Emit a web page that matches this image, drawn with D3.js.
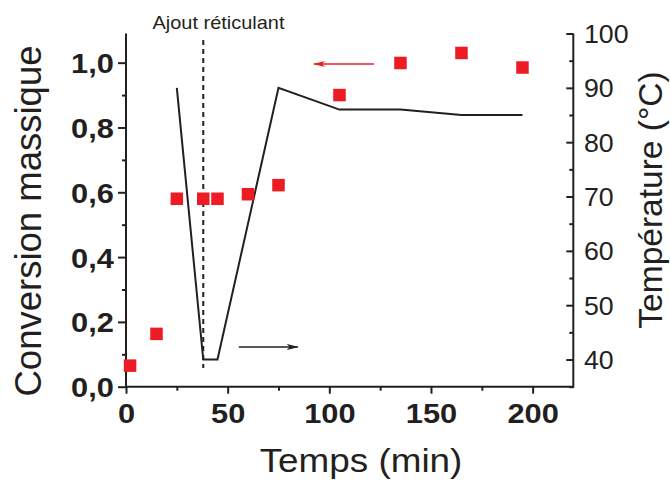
<!DOCTYPE html>
<html><head><meta charset="utf-8">
<script src="https://cdn.jsdelivr.net/npm/d3@7"></script>
<style>
html,body{margin:0;padding:0;background:#fff;}
svg{display:block;font-family:"Liberation Sans",Arial,sans-serif;}
</style></head>
<body>
<svg id="chart" width="670" height="480"></svg>
<script>
// ---- data ----
const convTime = [2, 15, 25, 38, 45, 60, 75, 105, 135, 165, 195];
const convValues = [0.065, 0.163, 0.58, 0.58, 0.58, 0.594, 0.622, 0.90, 0.999, 1.03, 0.985];
const tempTime = [25, 38, 45, 75, 105, 135, 165, 195];
const tempValues = [90, 40, 40, 90, 86, 86, 85, 85];
const xTicks = [0, 50, 100, 150, 200];
const xMinor = [25, 75, 125, 175];
const leftTicks = [0, 0.2, 0.4, 0.6, 0.8, 1.0];
const leftMinor = [0.1, 0.3, 0.5, 0.7, 0.9];
const rightTicks = [40, 50, 60, 70, 80, 90, 100];
const rightMinor = [35, 45, 55, 65, 75, 85, 95];
const additionTime = 38;
const annotationText = "Ajout réticulant";
const xTitle = "Temps (min)";
const leftTitle = "Conversion massique";
const rightTitle = "Température (°C)";

const RED = "#ed1c24", INK = "#231f20";
const svg = d3.select("#chart");
const L = 126, R = 573.3, T = 33.5, B = 386.7;

const x = d3.scaleLinear().domain([0, 220]).range([L, R]);
const yL = d3.scaleLinear().domain([0, 1.09]).range([B, T]);
const yR = d3.scaleLinear().domain([35, 100]).range([B, T]);
const fmtL = v => d3.format(".1f")(v).replace(".", ",");

// markers
const defs = svg.append("defs");
[["arrRed", RED], ["arrBlk", INK]].forEach(([id, c]) => {
  defs.append("marker").attr("id", id).attr("viewBox", "0 0 12 8")
    .attr("refX", 11).attr("refY", 4).attr("markerWidth", 12).attr("markerHeight", 8)
    .attr("markerUnits", "userSpaceOnUse").attr("orient", "auto")
    .append("path").attr("d", "M0,1 L12,4 L0,7 L3,4 Z").attr("fill", c);
});

function styleAxis(g, bold, size) {
  g.select(".domain").remove();
  g.selectAll("line").attr("stroke", INK).attr("stroke-width", 2);
  g.selectAll("text").attr("fill", INK).attr("font-size", size)
    .attr("font-weight", bold ? "bold" : "normal")
    .attr("font-family", "'Liberation Sans', Arial, sans-serif");
}

// X axis
const gx = svg.append("g").attr("transform", `translate(0,${B})`)
  .call(d3.axisBottom(x).tickValues(xTicks).tickSize(7).tickPadding(8).tickFormat(d3.format("d")));
styleAxis(gx, true, 28);
gx.selectAll("text").attr("transform", "scale(1.1,1)").each(function(){
  const t = d3.select(this.parentNode).attr("transform");
});
gx.selectAll(".tick text").attr("transform", null).attr("text-anchor", "middle")
  .attr("dy", null).attr("y", 36.5).style("transform", "scaleX(1.1)");
const gxm = svg.append("g").attr("transform", `translate(0,${B})`)
  .call(d3.axisBottom(x).tickValues(xMinor).tickSize(4).tickFormat(""));
styleAxis(gxm, true, 28);

// Left axis
const gl = svg.append("g").attr("transform", `translate(${L},0)`)
  .call(d3.axisLeft(yL).tickValues(leftTicks).tickSize(8).tickPadding(3).tickFormat(fmtL));
styleAxis(gl, true, 28);
gl.selectAll(".tick text").attr("dy", "0.36em").style("transform", "scaleX(1.1)").style("transform-origin", "0 0");
const glm = svg.append("g").attr("transform", `translate(${L},0)`)
  .call(d3.axisLeft(yL).tickValues(leftMinor).tickSize(4).tickFormat(""));
styleAxis(glm, true, 28);

// Right axis (ticks inward)
const gr = svg.append("g").attr("transform", `translate(${R},0)`)
  .call(d3.axisRight(yR).tickValues(rightTicks).tickSize(-7).tickPadding(10).tickFormat(d3.format("d")));
styleAxis(gr, false, 25);
gr.selectAll(".tick text").attr("dy", "0.36em").style("transform", "scaleX(1.07)");
const grm = svg.append("g").attr("transform", `translate(${R},0)`)
  .call(d3.axisRight(yR).tickValues(rightMinor).tickSize(-4).tickFormat(""));
styleAxis(grm, false, 25);

// axis lines
svg.append("line").attr("x1", L).attr("x2", R).attr("y1", B).attr("y2", B).attr("stroke", INK).attr("stroke-width", 2);
svg.append("line").attr("x1", L).attr("x2", L).attr("y1", T).attr("y2", B + 1).attr("stroke", INK).attr("stroke-width", 2);
svg.append("line").attr("x1", R).attr("x2", R).attr("y1", T).attr("y2", B + 1).attr("stroke", INK).attr("stroke-width", 2);

// dashed addition line
svg.append("line").attr("x1", x(additionTime)).attr("x2", x(additionTime))
  .attr("y1", 40).attr("y2", 368).attr("stroke", INK).attr("stroke-width", 2)
  .attr("stroke-dasharray", "5,4");

// temperature line
const tempData = tempTime.map((t, i) => [t, tempValues[i]]);
svg.append("path").datum(tempData)
  .attr("d", d3.line().x(d => x(d[0])).y(d => yR(d[1])))
  .attr("fill", "none").attr("stroke", INK).attr("stroke-width", 2).attr("stroke-linejoin", "miter");

// conversion squares
const S = 12.5;
svg.append("g").selectAll("rect").data(convTime.map((t, i) => [t, convValues[i]])).join("rect")
  .attr("x", d => x(d[0]) - S / 2).attr("y", d => yL(d[1]) - S / 2)
  .attr("width", S).attr("height", S).attr("fill", RED);

// arrows
svg.append("line").attr("x1", x(122)).attr("x2", x(92.5)).attr("y1", yL(0.996)).attr("y2", yL(0.996))
  .attr("stroke", RED).attr("stroke-width", 1.6).attr("marker-end", "url(#arrRed)");
svg.append("line").attr("x1", x(55.5)).attr("x2", x(84.5)).attr("y1", yR(42.3)).attr("y2", yR(42.3))
  .attr("stroke", INK).attr("stroke-width", 1.6).attr("marker-end", "url(#arrBlk)");

// annotation
svg.append("text").attr("transform", `translate(218.5,29.3) scale(1.05,1)`)
  .attr("text-anchor", "middle").attr("font-size", 19).attr("fill", INK).text(annotationText);

// titles
svg.append("text").attr("transform", `translate(361,471.5) scale(1.1,1)`)
  .attr("text-anchor", "middle").attr("font-size", 33.5).attr("fill", INK).text(xTitle);
svg.append("text").attr("transform", `translate(41,221) rotate(-90)`)
  .attr("text-anchor", "middle").attr("font-size", 36.5).attr("fill", INK).text(leftTitle);
svg.append("text").attr("transform", `translate(662,200) rotate(-90)`)
  .attr("text-anchor", "middle").attr("font-size", 33.5).attr("fill", INK).text(rightTitle);
</script>
</body></html>
